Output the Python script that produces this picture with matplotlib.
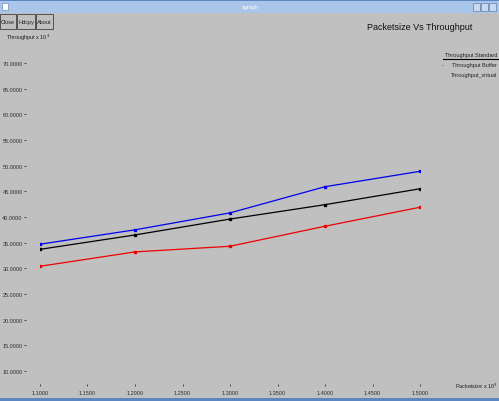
import matplotlib
matplotlib.use("Agg")
import matplotlib.pyplot as plt
from matplotlib.patches import Rectangle
from matplotlib.lines import Line2D

# ---- data ----
packet_size = [1.1, 1.2, 1.3, 1.4, 1.5]
series_names = ["Throughput Standard", "Throughput Buffer", "Throughput_virtual"]
thr_blue = [34.7, 37.5, 40.8, 45.9, 48.9]
thr_black = [33.7, 36.5, 39.6, 42.4, 45.5]
thr_red = [30.4, 33.2, 34.3, 38.2, 41.9]
x_ticks = [1.10, 1.15, 1.20, 1.25, 1.30, 1.35, 1.40, 1.45, 1.50]
y_ticks = [10, 15, 20, 25, 30, 35, 40, 45, 50, 55, 60, 65, 70]

W, H = 499, 402
BG = "#c0c0c0"
plt.rcParams['font.family'] = ['Liberation Sans', 'DejaVu Sans']

fig = plt.figure(figsize=(W / 100, H / 100), dpi=100)
fig.patch.set_facecolor(BG)

def fx(px):
    return px / W

def fy(py):
    return 1 - py / H

# window title bar
fig.patches.append(Rectangle((0, fy(14)), 1, 14 / H, transform=fig.transFigure,
                             facecolor="#a9c6ea", edgecolor="none", zorder=0))
fig.patches.append(Rectangle((0, fy(2)), 1, 2 / H, transform=fig.transFigure,
                             facecolor="#5b86c0", edgecolor="none", zorder=1))
fig.patches.append(Rectangle((fx(2), fy(11)), 6 / W, 7 / H, transform=fig.transFigure,
                             facecolor="#ffffff", edgecolor="#7090c0", lw=0.5, zorder=2))
fig.text(fx(250), fy(7), "xgraph", fontsize=4, color="#ffffff", ha="center", va="center")
for i, bx in enumerate([473, 481, 489]):
    fig.patches.append(Rectangle((fx(bx), fy(12)), 7 / W, 8 / H, transform=fig.transFigure,
                                 facecolor="#c8d8f0", edgecolor="#6080b0", lw=0.5, zorder=2))
# bottom border
fig.patches.append(Rectangle((0, 0), 1, 3 / H, transform=fig.transFigure,
                             facecolor="#5b86c0", edgecolor="none", zorder=1))

# buttons
for label, x0, w in [("Close", 0, 16), ("Hdcpy", 17, 18), ("About", 36, 17)]:
    fig.patches.append(Rectangle((fx(x0), fy(30)), w / W, 15 / H, transform=fig.transFigure,
                                 facecolor=BG, edgecolor="#404040", lw=0.6, zorder=2))
    fig.text(fx(x0 + w / 2), fy(22.5), label, fontsize=4, ha="center", va="center", color="#202020")

# labels and title
fig.text(fx(6), fy(38), "Throughput x 10$^3$", fontsize=4, ha="left", va="center", color="#202020")
fig.text(fx(420), fy(28), "Packetsize Vs Throughput", fontsize=6.5, ha="center", va="center", color="#101010")
fig.text(fx(498), fy(386), "Packetsize x 10$^3$", fontsize=4, ha="right", va="center", color="#202020")

# data axes
ax = fig.add_axes([fx(40), fy(372), (420 - 40) / W, (372 - 64) / H])
ax.set_facecolor(BG)
ax.patch.set_alpha(0)
ax.set_xlim(1.1, 1.5)
ax.set_ylim(10, 70)
for s in ax.spines.values():
    s.set_visible(False)
ax.spines['left'].set_position(('outward', 16 * 72 / 100))
ax.spines['bottom'].set_position(('outward', 15 * 72 / 100))
ax.set_xticks(x_ticks)
ax.set_xticklabels([f"{v:.4f}" for v in x_ticks])
ax.set_yticks(y_ticks)
ax.set_yticklabels([f"{v:.4f}" for v in y_ticks])
ax.tick_params(axis='both', direction='in', length=1.5, width=0.6, labelsize=4,
               colors="#303030", pad=1)
ax.tick_params(axis='x', pad=3)

ax.plot(packet_size, thr_blue, color="#0000ee", lw=0.9, marker="s", ms=1.6)
ax.plot(packet_size, thr_black, color="#000000", lw=0.9, marker="s", ms=1.6)
ax.plot(packet_size, thr_red, color="#ee0000", lw=0.9, marker="s", ms=1.6)

# legend (xgraph style)
ly = [55, 66, 76]
for name, yy in zip(series_names, ly):
    fig.text(fx(497), fy(yy), name, fontsize=4, ha="right", va="center", color="#202020")
fig.add_artist(Line2D([fx(443), fx(499)], [fy(60), fy(60)], transform=fig.transFigure,
                      color="#000000", lw=0.8))
fig.text(fx(442), fy(66), "-", fontsize=4, ha="left", va="center", color="#202020")

fig.savefig("out.png", dpi=100, facecolor=BG)
